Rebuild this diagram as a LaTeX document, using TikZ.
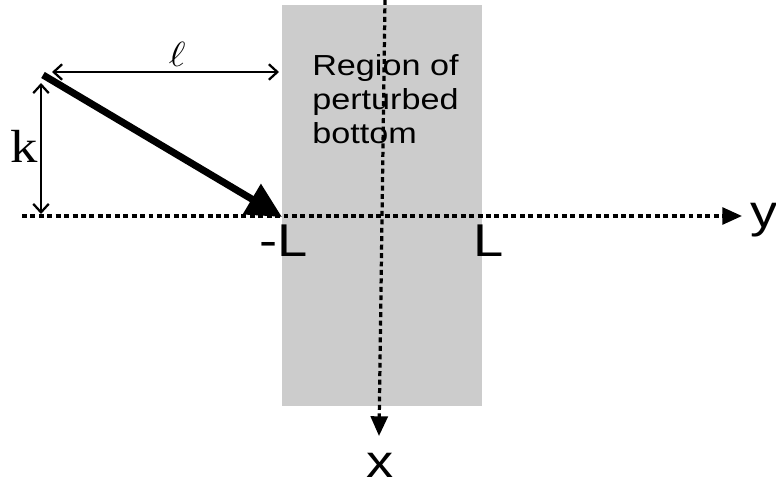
\documentclass[tikz,border=0pt]{standalone}
\usepackage{fontspec}
\usepackage{graphicx}
\setmainfont{Liberation Serif}
\newfontfamily\arialfont{Liberation Sans}
\usetikzlibrary{arrows.meta, positioning}
\newcommand{\stretchx}[1]{\scalebox{1.18}[1]{#1}}

\begin{document}
\begin{tikzpicture}[x=0.025cm, y=-0.025cm, >=Latex,
    axis/.style={line width=2.3pt, dash pattern=on 3.5pt off 2.5pt, -{Triangle[length=14pt, width=12pt]}},
    dim/.style={line width=1.6pt, {Straight Barb[length=6pt, width=11pt]}-{Straight Barb[length=6pt, width=11pt]}},
    biglbl/.style={font=\arialfont\fontsize{32.7}{36}\selectfont, inner sep=0pt, anchor=base}]
    % 0. Khung hình
    \useasboundingbox (0,0) rectangle (776,486);

    % 1. Vùng đáy nhiễu (màu xám)
    \fill[gray!40] (282,5) rectangle (482,406);
    \node[font=\arialfont\fontsize{20.6}{24.2}\selectfont, align=left, inner sep=0pt, anchor=north west]
        (region) at (312,54) {\stretchx{Region of}\\\stretchx{perturbed}\\\stretchx{bottom}};

    % 2. Hệ trục y (ngang) và x (dọc)
    \coordinate (yStart) at (22,216);
    \coordinate (yEnd) at (742,216);
    \coordinate (xStart) at (385,0);
    \coordinate (xEnd) at (379,436);
    \draw[axis] (yStart) -- (yEnd);
    \draw[axis] (xStart) -- (xEnd);
    \node[biglbl] (ylbl) at (764,227) {\stretchx{y}};
    \node[biglbl] (xlbl) at (380,477) {\stretchx{x}};
    \node[biglbl] (mL) at (284,256) {\stretchx{-L}};
    \node[biglbl] (pL) at (489,256) {\stretchx{L}};

    % 3. Sóng tới (mũi tên đậm)
    \coordinate (src) at (43,75);
    \coordinate (tip) at (282,217);
    \draw[line width=5pt, -{Triangle[length=25pt, width=24pt]}] (src) -- (tip);

    % 4. Kích thước l và k
    \coordinate (lA) at (52,72);
    \coordinate (lB) at (279,72);
    \draw[dim] (lA) -- (lB);
    \node[font=\fontsize{25.6}{28}\selectfont, inner sep=0pt, anchor=base] (ell) at (177,67) {\stretchx{$\ell$}};

    \coordinate (kA) at (41,83);
    \coordinate (kB) at (41,214);
    \draw[dim] (kA) -- (kB);
    \node[font=\fontsize{33}{36}\selectfont, inner sep=0pt, anchor=base] (klbl) at (24,162) {\stretchx{k}};

\end{tikzpicture}
\end{document}
